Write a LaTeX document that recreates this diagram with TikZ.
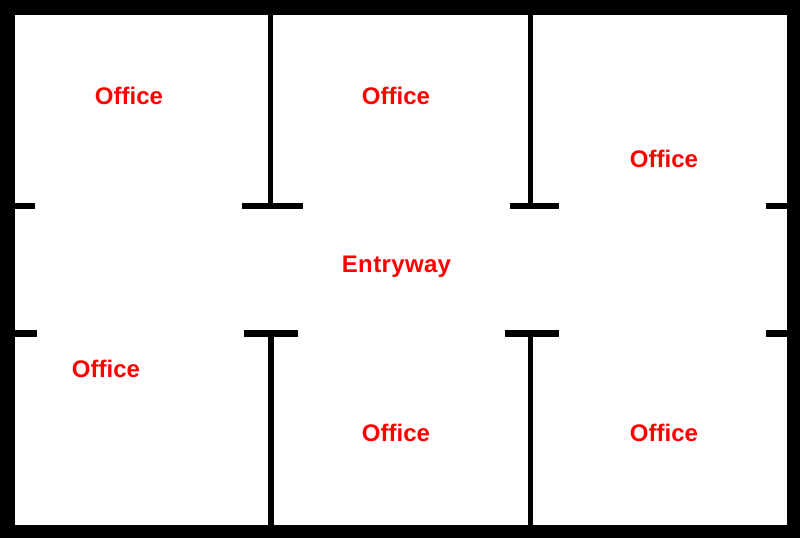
\documentclass[tikz,border=0pt]{standalone}
\usepackage{fontspec}
\setmainfont{Liberation Sans}
\tikzset{
  wall/.style={fill=black,draw=none},
  roomlabel/.style={text=red,font=\fontsize{18}{20}\selectfont\bfseries,anchor=base,inner sep=0pt}
}
\begin{document}
\begin{tikzpicture}[x=0.75pt,y=-0.75pt]
\useasboundingbox (0,0) rectangle (800,538);
% outer walls
\fill[wall] (0,0) rectangle (800,15);
\fill[wall] (0,525) rectangle (800,538);
\fill[wall] (0,0) rectangle (15,538);
\fill[wall] (787,0) rectangle (800,538);
% partitions
\fill[wall] (268,15) rectangle (273,209);
\fill[wall] (528,15) rectangle (533,209);
\fill[wall] (268,330) rectangle (274,525);
\fill[wall] (528,330) rectangle (533,525);
% upper stubs
\fill[wall] (15,203) rectangle (35,209);
\fill[wall] (242,203) rectangle (303,209);
\fill[wall] (510,203) rectangle (559,209);
\fill[wall] (766,203) rectangle (787,209);
% lower stubs
\fill[wall] (15,330) rectangle (37,337);
\fill[wall] (244,330) rectangle (298,337);
\fill[wall] (505,330) rectangle (559,337);
\fill[wall] (766,330) rectangle (787,337);
% labels
\node[roomlabel] (o1) at (129,105) {Office};
\node[roomlabel] (o2) at (396,105) {Office};
\node[roomlabel] (o3) at (664,168) {Office};
\node[roomlabel] (e) at (396.5,273) {\addfontfeature{LetterSpace=1.5}Entryway};
\node[roomlabel] (o4) at (106,378) {Office};
\node[roomlabel] (o5) at (396,441) {Office};
\node[roomlabel] (o6) at (664,441) {Office};
\end{tikzpicture}
\end{document}
